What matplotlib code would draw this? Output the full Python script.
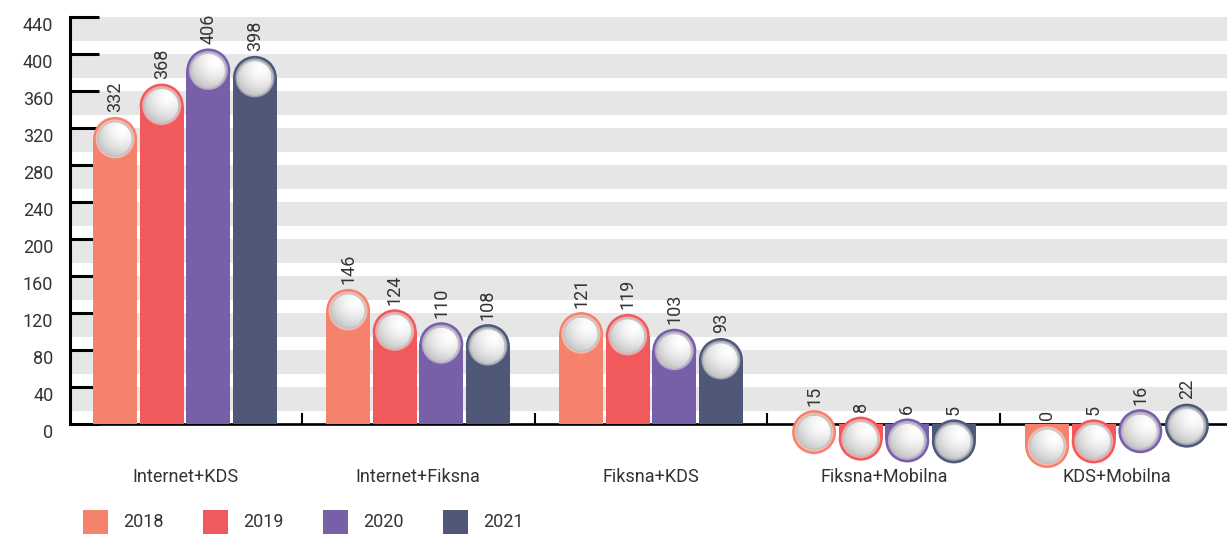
import numpy as np
import matplotlib
matplotlib.use('Agg')
import matplotlib.pyplot as plt
from matplotlib.patches import Rectangle, Ellipse
from matplotlib.transforms import ScaledTranslation

categories = ['Internet+KDS', 'Internet+Fiksna', 'Fiksna+KDS', 'Fiksna+Mobilna', 'KDS+Mobilna']
years = ['2018', '2019', '2020', '2021']
v2018 = [332, 146, 121, 15, 0]
v2019 = [368, 124, 119, 8, 5]
v2020 = [406, 110, 103, 6, 16]
v2021 = [398, 108, 93, 5, 22]
series = [v2018, v2019, v2020, v2021]
colors = ['#f4826d', '#f05a5c', '#7760a8', '#4f5878']
yticks = list(range(0, 441, 40))

plt.rcParams['font.family'] = ['Roboto', 'DejaVu Sans']
TXT = '#333333'
FW = 'normal'
FS = 13

W, H = 1227, 535
fig = plt.figure(figsize=(W / 100, H / 100), dpi=100)

x0_px, y0_px, ytop_px = 70, 424, 17
ppu = (y0_px - ytop_px) / 440.0
ymin, ymax = -50, 440
ax_bottom_px = y0_px + (0 - ymin) * ppu
ax_h_px = (ymax - ymin) * ppu
ax = fig.add_axes([x0_px / W, (H - ax_bottom_px) / H, (W - x0_px) / W, ax_h_px / H])

grp_px, c0_px = 233.0, 185.0
xmin = (x0_px - c0_px) / grp_px
xmax = (W - c0_px) / grp_px

# background bands
for v in yticks[1:]:
    ax.axhspan(v - 26, v, color='#e6e6e6', lw=0, zorder=0)

r_px = 22.0
r_x = r_px / grp_px
r_y = r_px / ppu
bw = 2 * r_x

# sphere gradient image
n = 80
yy, xx = np.mgrid[0:n, 0:n] / (n - 1)
d = np.sqrt((xx - 0.7) ** 2 + (yy - 0.25) ** 2)
t = np.clip(d / 1.0, 0, 1) ** 1.6
light = np.array([1.0, 1.0, 1.0])
dark = np.array([0.70, 0.70, 0.70])
img = light * (1 - t[..., None]) + dark * t[..., None]

def circ(cx, cy, rpx, **kw):
    return Ellipse((cx, cy), 2 * rpx / grp_px, 2 * rpx / ppu, **kw)

for j, vals in enumerate(series):
    col = colors[j]
    for i, v in enumerate(vals):
        cx = i + (j - 1.5) * 0.2
        cy = v - r_y
        ax.add_patch(circ(cx, cy, r_px, fc=col, ec='none', zorder=3))
        if cy > 0:
            ax.add_patch(Rectangle((cx - bw / 2, 0), bw, cy, fc=col, ec='none', zorder=3))
        elif -cy * ppu > 10:
            ax.add_patch(Rectangle((cx - bw / 2, cy), bw, -cy, fc=col, ec='none', zorder=3))
        ax.add_patch(circ(cx, cy, 19.5, fc='white', alpha=0.45, ec='none', zorder=4))
        ax.add_patch(circ(cx, cy, 18.0, fc='#c4c4c4', ec='none', zorder=4.5))
        clip = circ(cx, cy, 16.5, fc='none', ec='none', transform=ax.transData)
        ax.add_patch(clip)
        rs_x, rs_y = 16.5 / grp_px, 16.5 / ppu
        im = ax.imshow(img, extent=[cx - rs_x, cx + rs_x, cy - rs_y, cy + rs_y],
                       origin='upper', aspect='auto', zorder=5, interpolation='bilinear')
        im.set_clip_path(clip)
        ax.text(cx, v + 4.5 / ppu, str(v), rotation=90, ha='center', va='bottom',
                fontsize=FS, color=TXT, fontweight=FW, zorder=6)

ax.set_xlim(xmin, xmax)
ax.set_ylim(ymin, ymax)

for s in ['top', 'right']:
    ax.spines[s].set_visible(False)
ax.spines['left'].set_bounds(0, 440)
ax.spines['left'].set_linewidth(2.2)
ax.spines['bottom'].set_position(('data', 0))
ax.spines['bottom'].set_linewidth(1.9)

ax.set_yticks(yticks)
ax.set_yticklabels([str(v) for v in yticks])
ax.tick_params(axis='y', direction='in', length=21, width=2.2, pad=12,
               labelsize=FS, labelcolor=TXT)
for lab in ax.get_yticklabels():
    lab.set_fontweight(FW)
    lab.set_transform(lab.get_transform() + ScaledTranslation(0, -7 / 100, fig.dpi_scale_trans))

ax.set_xticks([i + 0.5 for i in range(len(categories) - 1)])
ax.set_xticklabels([])
ax.tick_params(axis='x', direction='in', length=8, width=1.5)

for i, c in enumerate(categories):
    ax.text(i, -(477 - y0_px) / ppu, c, ha='center', va='center', fontsize=FS,
            color=TXT, fontweight=FW, clip_on=False)

# legend
for k, yr in enumerate(years):
    lx = 83 + 120 * k
    fig.add_artist(Rectangle((lx / W, (H - 534) / H), 25 / W, 24 / H,
                             transform=fig.transFigure, fc=colors[k], ec='none'))
    fig.text((lx + 40) / W, (H - 522) / H, yr, ha='left', va='center',
             fontsize=FS, color=TXT, fontweight=FW)

fig.savefig('out.png', dpi=100)
